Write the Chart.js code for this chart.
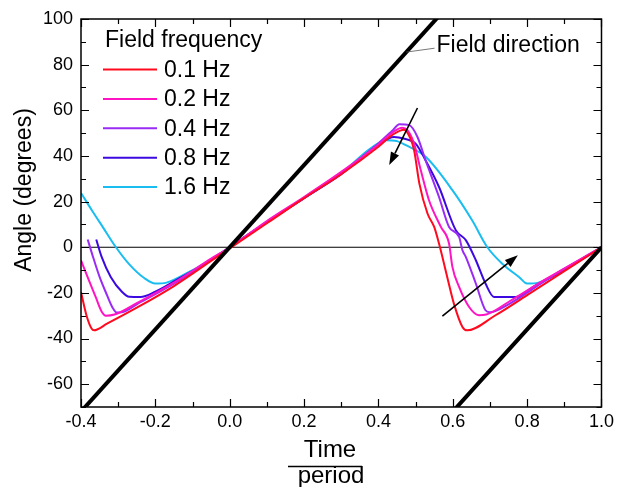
<!DOCTYPE html>
<html>
<head>
<meta charset="utf-8">
<script src="https://cdn.jsdelivr.net/npm/chart.js@4/dist/chart.umd.min.js"></script>
<style>
  html, body { margin: 0; padding: 0; background: #fff; }
  #wrap { width: 618px; height: 487px; }
</style>
</head>
<body>
<div id="wrap"><canvas id="angleChart" width="618" height="487"></canvas></div>
<script>
/* ---- data ---- */
const xTicks = [-0.4, -0.2, 0.0, 0.2, 0.4, 0.6, 0.8, 1.0];
const yTicks = [-60, -40, -20, 0, 20, 40, 60, 80, 100];

const freqLabels = ["0.1 Hz", "0.2 Hz", "0.4 Hz", "0.8 Hz", "1.6 Hz"];
const freqColors = ["#FF0A1E", "#FF14C4", "#9A2BF5", "#3C0AE0", "#19BDF0"];

const t01 = [-0.4, -0.385, -0.372, -0.365, -0.33, -0.25, -0.15, -0.05, 0, 0.1, 0.2, 0.3, 0.4, 0.44, 0.469, 0.485, 0.496, 0.51, 0.532, 0.55, 0.563, 0.585, 0.603, 0.626, 0.639, 0.715, 0.8, 0.9, 1.0];
const a01 = [-19.6, -30, -35.5, -36.4, -33.5, -26.5, -17, -6, -0.5, 10.5, 21.5, 32, 44, 49.5, 51.5, 48, 42.5, 28, 14.8, 8.9, 1.6, -13, -24.7, -34.9, -36.4, -29.8, -21, -10.5, 0];

const t02 = [-0.4, -0.38, -0.36, -0.345, -0.333, -0.31, -0.25, -0.15, -0.05, 0, 0.1, 0.2, 0.3, 0.4, 0.44, 0.464, 0.478, 0.496, 0.514, 0.536, 0.568, 0.59, 0.599, 0.617, 0.644, 0.67, 0.69, 0.75, 0.85, 1.0];
const a02 = [-5.7, -14, -22, -28, -30, -29.5, -24.5, -15.5, -5, 0, 11.5, 22, 33, 45, 50.5, 52.3, 51.3, 45.4, 33.7, 20.6, 8.9, 1.6, -8.6, -17.4, -26.2, -29.8, -29.5, -24, -14, 0];

const t04 = [-0.382, -0.37, -0.35, -0.33, -0.315, -0.304, -0.29, -0.25, -0.15, -0.05, 0, 0.1, 0.2, 0.3, 0.4, 0.44, 0.456, 0.483, 0.505, 0.527, 0.563, 0.59, 0.617, 0.626, 0.635, 0.662, 0.688, 0.7, 0.75, 0.85, 1.0];
const a04 = [3.4, -3, -13, -21, -26.5, -28.6, -28.5, -25, -16, -5.5, 0, 11, 21.5, 32.5, 45.5, 51.5, 53.9, 53.5, 48.3, 38, 22, 8.9, 4.5, -1.3, -4.2, -15.9, -27.6, -28.5, -25, -14.5, 0];

const t08 = [-0.359, -0.345, -0.32, -0.29, -0.27, -0.24, -0.2, -0.15, -0.05, 0, 0.1, 0.2, 0.3, 0.4, 0.442, 0.47, 0.5, 0.527, 0.563, 0.608, 0.635, 0.662, 0.688, 0.711, 0.77, 0.82, 0.9, 1.0];
const a08 = [3.4, -4, -13, -19.5, -21.7, -21.8, -19.5, -15, -5.5, 0, 11, 21.5, 32, 45, 48.3, 47.5, 45.4, 38, 26.4, 7.5, 3.1, -5.7, -15.9, -21.8, -21.8, -17, -10, 0];

const t16 = [-0.4, -0.37, -0.34, -0.306, -0.27, -0.23, -0.2, -0.17, -0.1, -0.05, 0, 0.1, 0.2, 0.3, 0.38, 0.42, 0.45, 0.474, 0.527, 0.599, 0.652, 0.693, 0.733, 0.778, 0.8, 0.83, 0.9, 1.0];
const a16 = [23.8, 16, 8.5, 0, -7.5, -13.5, -15.9, -15.5, -10, -5.5, 0, 11, 21.5, 32.5, 43.5, 46.9, 46.5, 44.7, 39.6, 25, 11.8, 0, -7.2, -13, -15.9, -15.5, -9.5, 0];

// field direction (180 deg per period), two branches
const fieldT1 = [-0.4, 0.6];
const fieldA1 = [-72, 108];
const fieldT2 = [0.6, 1.0];
const fieldA2 = [-72, 0];

// arrows: [t0, a0, t1, a1] (tail -> head)
const arrowDown = [0.505, 61, 0.429, 36];
const arrowUp = [0.572, -30.2, 0.775, -3.5];
// "Field direction" leader: from line to text
const leader = [0.475, 85.5, 0.551, 87.2];
const leaderText = "Field direction";

const seriesT = [t01, t02, t04, t08, t16];
const seriesA = [a01, a02, a04, a08, a16];

const FONT = "'Liberation Sans', Arial, sans-serif";

function pts(ts, as) {
  return ts.map((t, i) => ({ x: t, y: as[i] }));
}

const datasets = [
  { data: pts(fieldT1, fieldA1), borderColor: "#000", borderWidth: 4 },
  { data: pts(fieldT2, fieldA2), borderColor: "#000", borderWidth: 4 }
];
seriesT.forEach((ts, i) => {
  datasets.push({
    label: freqLabels[i],
    data: pts(ts, seriesA[i]),
    borderColor: freqColors[i],
    borderWidth: 2
  });
});
datasets.push({ data: pts([-0.4, 1.0], [0, 0]), borderColor: "#000", borderWidth: 1.2 });


/* ---- frame, inward ticks, annotations, legend, axis titles ---- */
const decorations = {
  id: "decorations",
  afterDraw(chart) {
    const { ctx, chartArea: ca, scales: { x, y } } = chart;
    ctx.save();
    ctx.strokeStyle = "#000";
    ctx.lineWidth = 1.5;
    ctx.strokeRect(ca.left, ca.top, ca.right - ca.left, ca.bottom - ca.top);

    // x ticks (major every 0.2, minor every 0.1), inward top & bottom
    ctx.lineWidth = 1.2;
    for (let k = -4; k <= 10; k++) {
      const px = Math.round(x.getPixelForValue(k / 10)) + 0.5;
      const len = k % 2 === 0 ? 8 : 5;
      ctx.beginPath();
      ctx.moveTo(px, ca.bottom); ctx.lineTo(px, ca.bottom - len);
      ctx.moveTo(px, ca.top); ctx.lineTo(px, ca.top + len);
      ctx.stroke();
    }
    // y ticks (major every 20, minor every 10), inward left & right
    for (let v = -70; v <= 100; v += 10) {
      const py = Math.round(y.getPixelForValue(v)) + 0.5;
      const len = v % 20 === 0 ? 8 : 5;
      ctx.beginPath();
      ctx.moveTo(ca.left, py); ctx.lineTo(ca.left + len, py);
      ctx.moveTo(ca.right, py); ctx.lineTo(ca.right - len, py);
      ctx.stroke();
    }

    // arrows
    function arrow(a) {
      const x0 = x.getPixelForValue(a[0]), y0 = y.getPixelForValue(a[1]);
      const x1 = x.getPixelForValue(a[2]), y1 = y.getPixelForValue(a[3]);
      const ang = Math.atan2(y1 - y0, x1 - x0);
      const hl = 13, hw = 4.5;
      const bx = x1 - hl * Math.cos(ang), by = y1 - hl * Math.sin(ang);
      ctx.strokeStyle = "#000";
      ctx.lineWidth = 1.6;
      ctx.beginPath(); ctx.moveTo(x0, y0); ctx.lineTo(bx, by); ctx.stroke();
      ctx.fillStyle = "#000";
      ctx.beginPath();
      ctx.moveTo(x1, y1);
      ctx.lineTo(bx + hw * Math.sin(ang), by - hw * Math.cos(ang));
      ctx.lineTo(bx - hw * Math.sin(ang), by + hw * Math.cos(ang));
      ctx.closePath(); ctx.fill();
    }
    arrow(arrowDown);
    arrow(arrowUp);

    // field direction label + leader
    ctx.strokeStyle = "#555";
    ctx.lineWidth = 0.8;
    ctx.beginPath();
    ctx.moveTo(x.getPixelForValue(leader[0]), y.getPixelForValue(leader[1]));
    ctx.lineTo(x.getPixelForValue(leader[2]), y.getPixelForValue(leader[3]));
    ctx.stroke();
    ctx.fillStyle = "#000";
    ctx.font = "23px " + FONT;
    ctx.textBaseline = "middle";
    ctx.textAlign = "left";
    ctx.fillText(leaderText, x.getPixelForValue(leader[2]) + 2, y.getPixelForValue(leader[3]) - 3);

    // legend
    ctx.font = "23px " + FONT;
    ctx.fillText("Field frequency", 105, 41);
    freqLabels.forEach((lab, i) => {
      const ly = 69.5 + i * 29.4;
      ctx.strokeStyle = freqColors[i];
      ctx.lineWidth = 2;
      ctx.beginPath(); ctx.moveTo(103, ly); ctx.lineTo(157, ly); ctx.stroke();
      ctx.fillStyle = "#000";
      ctx.fillText(lab, 164, ly + 1);
    });

    // y title
    ctx.save();
    ctx.translate(31, 190);
    ctx.rotate(-Math.PI / 2);
    ctx.textAlign = "center";
    ctx.textBaseline = "alphabetic";
    ctx.font = "23px " + FONT;
    ctx.fillText("Angle (degrees)", 0, 0);
    ctx.restore();

    // x title as a fraction
    ctx.textAlign = "center";
    ctx.textBaseline = "alphabetic";
    ctx.font = "24px " + FONT;
    ctx.fillText("Time", 330, 457);
    ctx.strokeStyle = "#000";
    ctx.lineWidth = 1.6;
    ctx.beginPath(); ctx.moveTo(288, 466.5); ctx.lineTo(362, 466.5); ctx.stroke();
    ctx.fillText("period", 331, 483);
    ctx.restore();
  }
};

new Chart(document.getElementById("angleChart").getContext("2d"), {
  type: "line",
  data: { datasets },
  options: {
    responsive: false,
    animation: false,
    elements: { point: { radius: 0 }, line: { tension: 0.3, cubicInterpolationMode: "monotone" } },
    layout: { padding: { top: 19, right: 15, left: 0, bottom: 0 } },
    plugins: { legend: { display: false }, tooltip: { enabled: false } },
    scales: {
      x: {
        type: "linear",
        min: -0.4,
        max: 1.0,
        afterBuildTicks: s => { s.ticks = xTicks.map(v => ({ value: v })); },
        afterFit: s => { s.height = 80; },
        grid: { display: false, drawTicks: false },
        border: { display: false },
        ticks: {
          color: "#000",
          padding: 4,
          maxRotation: 0,
          font: { family: FONT, size: 18 },
          callback: v => v.toFixed(1)
        }
      },
      y: {
        min: -70,
        max: 100,
        afterBuildTicks: s => { s.ticks = yTicks.map(v => ({ value: v })); },
        afterFit: s => { s.width = 81; },
        grid: { display: false, drawTicks: false },
        border: { display: false },
        ticks: {
          color: "#000",
          padding: 8,
          font: { family: FONT, size: 18 },
          callback: v => String(v)
        }
      }
    }
  },
  plugins: [decorations]
});
</script>
</body>
</html>
